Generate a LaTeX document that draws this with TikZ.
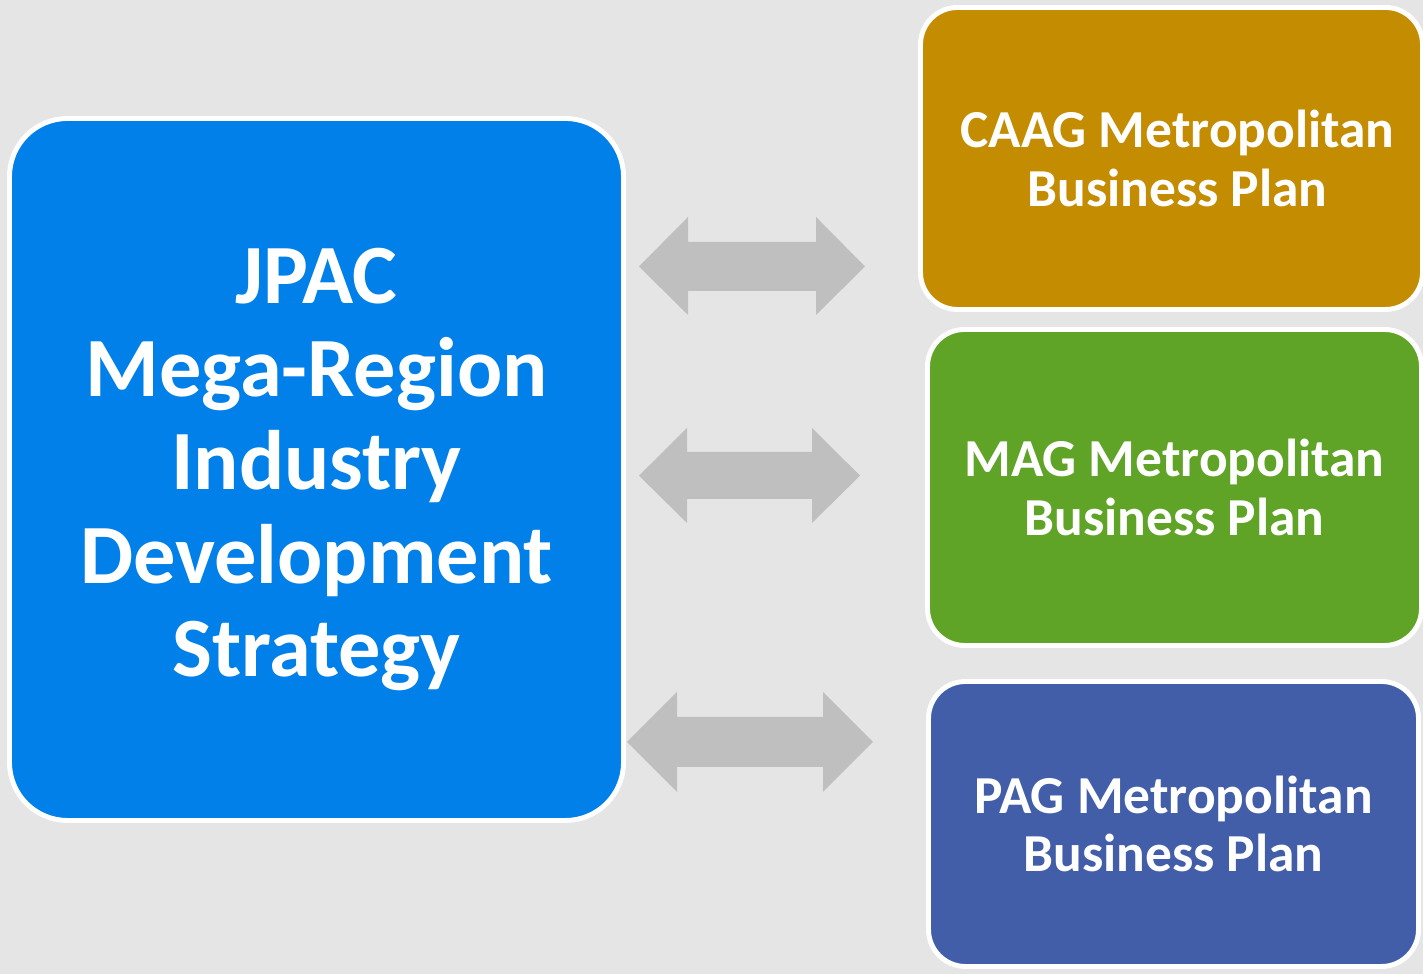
\documentclass[tikz,border=0pt]{standalone}
\usepackage{fontspec}
\setmainfont{Carlito}
\usepackage{xcolor}
\usepackage{tikz}

\definecolor{jpacblue}{RGB}{0,128,232}
\definecolor{caaggold}{RGB}{196,140,0}
\definecolor{maggreen}{RGB}{95,163,39}
\definecolor{pagblue}{RGB}{67,94,168}
\definecolor{arrowgray}{RGB}{191,191,191}
\definecolor{backgray}{RGB}{229,229,229}

\tikzset{
	planbox/.style={draw=white, line width=1.4pt, text=white, align=center, inner sep=0pt},
	bigtext/.style={font=\bfseries\fontsize{24}{26.6}\selectfont},
	smalltext/.style={font=\bfseries\fontsize{15.2}{16.6}\selectfont},
}

\begin{document}
\begin{tikzpicture}[arrowblock/.style={fill=arrowgray}]
	\fill[backgray] (0,0) rectangle (14.23,9.74);
	\useasboundingbox (0,0) rectangle (14.23,9.74);
	%
	\node[planbox, bigtext, fill=jpacblue, rounded corners=0.58cm, minimum width=6.14cm, minimum height=7.02cm] (jpac) at (3.165,5.045) {JPAC\\Mega-Region\\Industry\\Development\\Strategy};
	\node[planbox, smalltext, fill=caaggold, rounded corners=0.37cm, minimum width=5.02cm, minimum height=3.02cm] (caag) at (11.715,8.155) {\hspace*{0.12cm}CAAG Metropolitan\\\hspace*{0.12cm}Business Plan};
	\node[planbox, smalltext, fill=maggreen, rounded corners=0.37cm, minimum width=4.94cm, minimum height=3.16cm] (mag) at (11.745,4.865) {MAG Metropolitan\\Business Plan};
	\node[planbox, smalltext, fill=pagblue, rounded corners=0.37cm, minimum width=4.90cm, minimum height=2.85cm] (pag) at (11.735,1.50) {PAG Metropolitan\\Business Plan};
	%
	\fill[arrowblock] (6.39,7.075) -- (6.88,7.57) -- (6.88,7.32) -- (8.16,7.32) -- (8.16,7.57) -- (8.65,7.075) -- (8.16,6.59) -- (8.16,6.83) -- (6.88,6.83) -- (6.88,6.59) -- cycle;
	\fill[arrowblock] (6.39,4.983) -- (6.87,5.46) -- (6.87,5.22) -- (8.12,5.22) -- (8.12,5.46) -- (8.60,4.983) -- (8.12,4.51) -- (8.12,4.75) -- (6.87,4.75) -- (6.87,4.51) -- cycle;
	\fill[arrowblock] (6.27,2.32) -- (6.77,2.82) -- (6.77,2.57) -- (8.23,2.57) -- (8.23,2.82) -- (8.73,2.32) -- (8.23,1.82) -- (8.23,2.07) -- (6.77,2.07) -- (6.77,1.82) -- cycle;
\end{tikzpicture}
\end{document}
